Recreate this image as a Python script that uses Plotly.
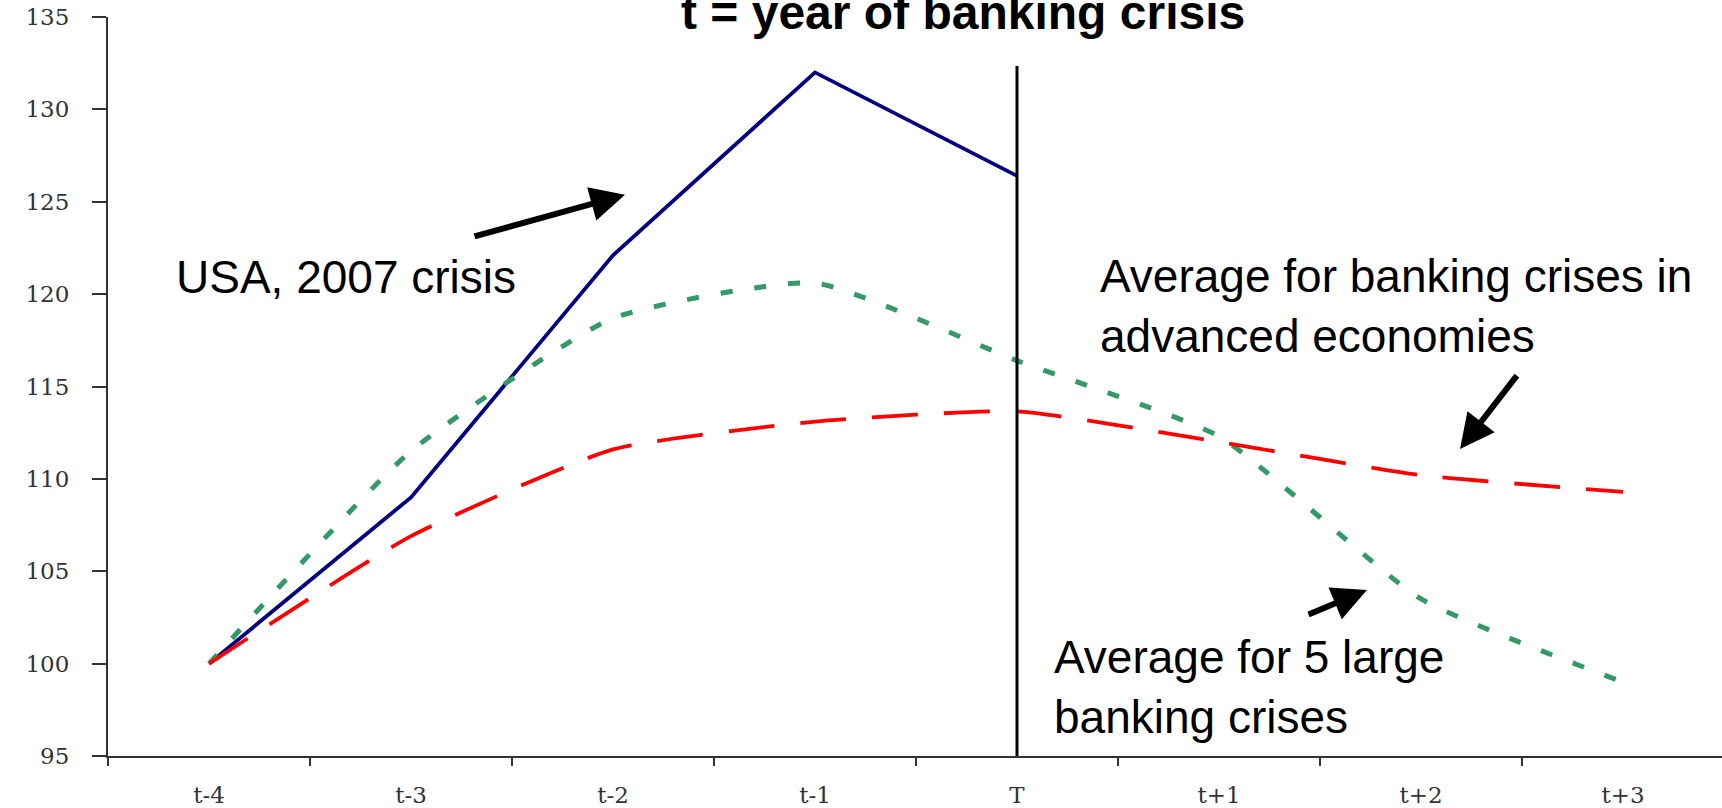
import plotly.graph_objects as go

# ---- data ----
periods = ["t-4", "t-3", "t-2", "t-1", "T", "t+1", "t+2", "t+3"]
usa_2007 = [100.0, 109.0, 122.1, 132.0, 126.4]
large5_avg = [100.0, 111.5, 118.7, 120.6, 116.4, 112.3, 103.5, 99.0]
advanced_avg = [100.0, 106.9, 111.6, 113.1, 113.65, 112.0, 110.2, 109.3]
y_ticks = [95, 100, 105, 110, 115, 120, 125, 130, 135]
crisis_period = "T"
crisis_line_top = 132.35

# ---- layout geometry (page pixels) ----
W, H = 1722, 808
AXIS_LEFT, AXIS_TOP, AXIS_BOTTOM = 108, 17, 761
ML, MT, MB, MR = AXIS_LEFT, AXIS_TOP, H - AXIS_BOTTOM, 0
PW = W - ML - MR
PH = H - MT - MB
CAT_PX = 202.0


def px_x(px):
    return (px - ML) / PW


def px_y(py):
    return (H - MB - py) / PH


fig = go.Figure()

fig.add_trace(go.Scatter(
    x=periods[:len(usa_2007)], y=usa_2007, mode="lines",
    line=dict(color="#000080", width=3.8),
    name="USA, 2007 crisis", hoverinfo="skip"))

fig.add_trace(go.Scatter(
    x=periods, y=large5_avg, mode="lines",
    line=dict(color="#339966", width=5, dash="12px,22px", shape="spline", smoothing=0.5),
    name="Average for 5 large banking crises", hoverinfo="skip"))

fig.add_trace(go.Scatter(
    x=periods, y=advanced_avg, mode="lines",
    line=dict(color="#FF0000", width=3.8, dash="46px,26px", shape="spline", smoothing=0.5),
    name="Average for banking crises in advanced economies", hoverinfo="skip"))

# vertical line at crisis year
fig.add_shape(type="line", xref="x", yref="y",
              x0=periods.index(crisis_period), x1=periods.index(crisis_period),
              y0=y_ticks[0], y1=crisis_line_top,
              line=dict(color="black", width=3))

text_font = dict(family="Liberation Sans, Arial, sans-serif", size=46, color="black")

annotations = [
    dict(text="<b>t = year of banking crisis</b>", x=px_x(963), y=px_y(12),
         xref="paper", yref="paper", xanchor="center", yanchor="middle",
         showarrow=False,
         font=dict(family="Liberation Sans, Arial, sans-serif", size=48, color="black")),
    dict(text="USA, 2007 crisis", x=px_x(174), y=px_y(279),
         xref="paper", yref="paper", xanchor="left", yanchor="middle",
         showarrow=False, font=text_font),
    dict(text="Average for banking crises in<br>advanced economies",
         x=px_x(1098), y=px_y(308), xref="paper", yref="paper",
         xanchor="left", yanchor="middle", align="left",
         showarrow=False, font=text_font),
    dict(text="Average for 5 large<br>banking crises",
         x=px_x(1052), y=px_y(692), xref="paper", yref="paper",
         xanchor="left", yanchor="middle", align="left",
         showarrow=False, font=text_font),
]

# arrows (tip position in page px, tail offset in px)
arrows = [((625, 196), (-152, 42)),
          ((1460, 452), (58, -75)),
          ((1367, 594), (-60, 25))]
for (tx, ty), (ax, ay) in arrows:
    annotations.append(dict(
        text="", x=px_x(tx), y=px_y(ty), xref="paper", yref="paper",
        ax=ax, ay=ay, axref="pixel", ayref="pixel",
        showarrow=True, arrowhead=2, arrowsize=1.15, arrowwidth=6,
        arrowcolor="black", standoff=0, startstandoff=0))

tick_font = dict(family="DejaVu Serif, Liberation Serif, serif", size=23, color="#333333")

fig.update_layout(
    width=W, height=H,
    margin=dict(l=ML, r=MR, t=MT, b=MB, pad=0),
    paper_bgcolor="white", plot_bgcolor="white",
    showlegend=False,
    annotations=annotations,
    xaxis=dict(
        type="category", categoryorder="array", categoryarray=periods,
        range=[-0.5, -0.5 + PW / CAT_PX],
        tickson="boundaries", ticks="outside", ticklen=8, tickwidth=2, tickcolor="#333333",
        showline=True, linecolor="#333333", linewidth=2,
        showgrid=False, zeroline=False,
        tickfont=tick_font, ticklabelstandoff=17, ticklabeloverflow="allow",
    ),
    yaxis=dict(
        range=[y_ticks[0], y_ticks[-1]], tickvals=y_ticks,
        ticks="outside", ticklen=14, tickwidth=2, tickcolor="#333333",
        showline=True, linecolor="#333333", linewidth=2,
        showgrid=False, zeroline=False,
        tickfont=tick_font, ticklabelstandoff=18, ticklabeloverflow="allow",
    ),
)

fig.write_html(
    "out.html",
    config={"displayModeBar": False, "staticPlot": True},
    post_script="document.body.style.margin='0';document.body.style.overflow='hidden';",
)
